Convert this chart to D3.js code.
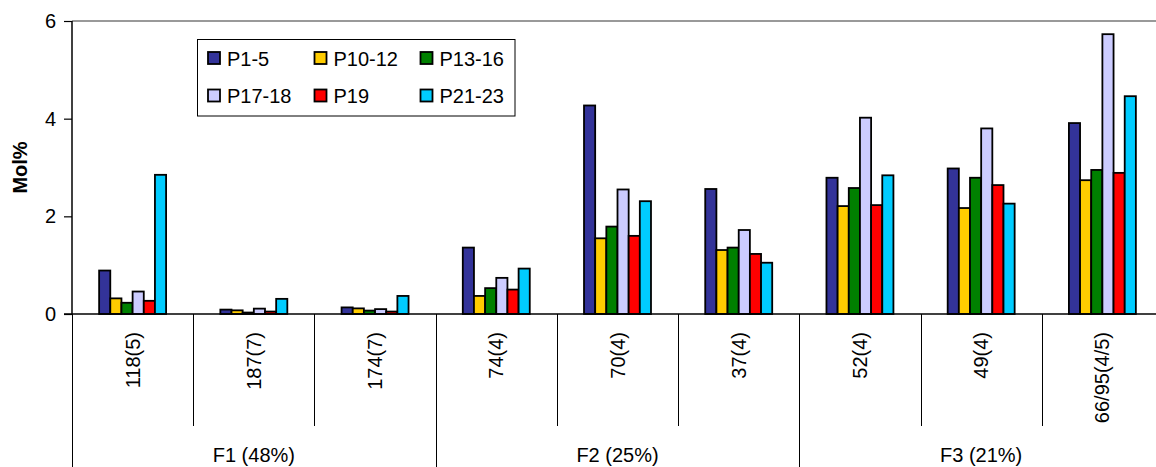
<!DOCTYPE html>
<html>
<head>
<meta charset="utf-8">
<script src="https://cdn.jsdelivr.net/npm/d3@7/dist/d3.min.js"></script>
<style>
  html, body { margin: 0; padding: 0; background: #fff; }
  svg { display: block; font-family: Arial, "Liberation Sans", sans-serif; }
</style>
</head>
<body>
<svg id="chart" width="1156" height="467"></svg>
<script>
// Samples (inner axis) and the fraction each belongs to (outer axis)
const categories = ["118(5)", "187(7)", "174(7)", "74(4)", "70(4)", "37(4)", "52(4)", "49(4)", "66/95(4/5)"];
const groups = [
  { name: "F1 (48%)", from: 0, to: 3 },
  { name: "F2 (25%)", from: 3, to: 6 },
  { name: "F3 (21%)", from: 6, to: 9 }
];
const seriesNames = ["P1-5", "P10-12", "P13-16", "P17-18", "P19", "P21-23"];
const seriesColors = ["#333399", "#FFCC00", "#008000", "#CCCCFF", "#FF0000", "#00CCFF"];

// Mol% per series, one value per sample
const p1_5   = [0.89, 0.09, 0.135, 1.36, 4.27, 2.56, 2.79, 2.98, 3.91];
const p10_12 = [0.32, 0.075, 0.115, 0.37, 1.55, 1.31, 2.21, 2.17, 2.74];
const p13_16 = [0.23, 0.03, 0.07, 0.53, 1.79, 1.36, 2.58, 2.79, 2.95];
const p17_18 = [0.46, 0.11, 0.10, 0.74, 2.55, 1.72, 4.02, 3.80, 5.73];
const p19    = [0.27, 0.05, 0.05, 0.50, 1.60, 1.23, 2.23, 2.64, 2.89];
const p21_23 = [2.85, 0.31, 0.37, 0.93, 2.31, 1.05, 2.84, 2.26, 4.46];
const seriesValues = [p1_5, p10_12, p13_16, p17_18, p19, p21_23];

const yTicks = [0, 2, 4, 6];
const yTitle = "Mol%";

const svg = d3.select("#chart");
const plotLeft = 72, plotRight = 1163, plotTop = 21, plotBottom = 314;

const x0 = d3.scaleBand().domain(categories).range([plotLeft, plotRight]).paddingInner(0).paddingOuter(0);
const x1 = d3.scaleBand().domain(seriesNames).range([0, x0.bandwidth()]).paddingInner(0).paddingOuter(2.43);
const y = d3.scaleLinear().domain([0, 6]).range([plotBottom, plotTop]);
const color = d3.scaleOrdinal().domain(seriesNames).range(seriesColors);

// plot area top border
svg.append("line")
  .attr("x1", plotLeft).attr("x2", 1156).attr("y1", y(6)).attr("y2", y(6))
  .attr("stroke", "#999").attr("stroke-width", 2);

// bars
const rows = categories.map((c, i) => ({ cat: c, vals: seriesNames.map((s, j) => ({ s, v: seriesValues[j][i] })) }));
svg.append("g").selectAll("g").data(rows).join("g")
  .attr("transform", d => `translate(${x0(d.cat)},0)`)
  .selectAll("rect").data(d => d.vals).join("rect")
  .attr("x", d => x1(d.s))
  .attr("y", d => y(d.v))
  .attr("width", x1.bandwidth())
  .attr("height", d => y(0) - y(d.v))
  .attr("fill", d => color(d.s))
  .attr("stroke", "#000")
  .attr("stroke-width", 1.8);

// y axis
const yAxis = svg.append("g").attr("transform", `translate(${plotLeft},0)`)
  .call(d3.axisLeft(y).tickValues(yTicks).tickSize(8).tickPadding(8).tickFormat(d3.format("d")));
yAxis.select(".domain").attr("stroke", "#000").attr("stroke-width", 1.5).attr("d", `M0,${plotTop}V${plotBottom}`);
yAxis.selectAll(".tick line").attr("stroke", "#000").attr("stroke-width", 1.2);
yAxis.selectAll(".tick text").attr("font-size", 20).attr("fill", "#000")
  .attr("font-family", "Arial, 'Liberation Sans', sans-serif");

svg.append("text")
  .attr("transform", `translate(27,${(plotTop + plotBottom) / 2}) rotate(-90)`)
  .attr("text-anchor", "middle")
  .attr("font-size", 20).attr("font-weight", "bold")
  .text(yTitle);

// x axis baseline
svg.append("line")
  .attr("x1", plotLeft - 8).attr("x2", 1156).attr("y1", plotBottom).attr("y2", plotBottom)
  .attr("stroke", "#000").attr("stroke-width", 1.5);

// separators between samples (short) and between fractions (long)
const groupEdges = new Set(groups.map(g => g.from).concat([categories.length]));
const edges = d3.range(categories.length + 1);
svg.append("g").selectAll("line").data(edges).join("line")
  .attr("x1", i => Math.round(plotLeft + i * x0.step()) + 0.5)
  .attr("x2", i => Math.round(plotLeft + i * x0.step()) + 0.5)
  .attr("y1", plotBottom)
  .attr("y2", i => groupEdges.has(i) ? 467 : 426)
  .attr("stroke", "#000").attr("stroke-width", 1);

// sample labels, rotated
svg.append("g").selectAll("text").data(categories).join("text")
  .attr("transform", d => `translate(${x0(d) + x0.bandwidth() / 2 + 7},332) rotate(-90)`)
  .attr("text-anchor", "end")
  .attr("font-size", 20)
  .text(d => d);

// fraction labels
svg.append("g").selectAll("text").data(groups).join("text")
  .attr("x", g => (plotLeft + g.from * x0.step() + plotLeft + g.to * x0.step()) / 2)
  .attr("y", 462)
  .attr("text-anchor", "middle")
  .attr("font-size", 20)
  .text(g => g.name);

// legend
const lg = svg.append("g");
lg.append("rect").attr("x", 197.5).attr("y", 39.5).attr("width", 317.5).attr("height", 76.5)
  .attr("fill", "#fff").attr("stroke", "#000").attr("stroke-width", 1);
const colX = [208, 314.5, 420.5];
const rowY = [52, 89.5];
seriesNames.forEach((s, i) => {
  const cx = colX[i % 3], cy = rowY[Math.floor(i / 3)];
  lg.append("rect").attr("x", cx).attr("y", cy).attr("width", 12).attr("height", 12)
    .attr("fill", color(s)).attr("stroke", "#000").attr("stroke-width", 1.8);
  lg.append("text").attr("x", cx + 19).attr("y", cy + 13.5)
    .attr("font-size", 20).text(s);
});
</script>
</body>
</html>
